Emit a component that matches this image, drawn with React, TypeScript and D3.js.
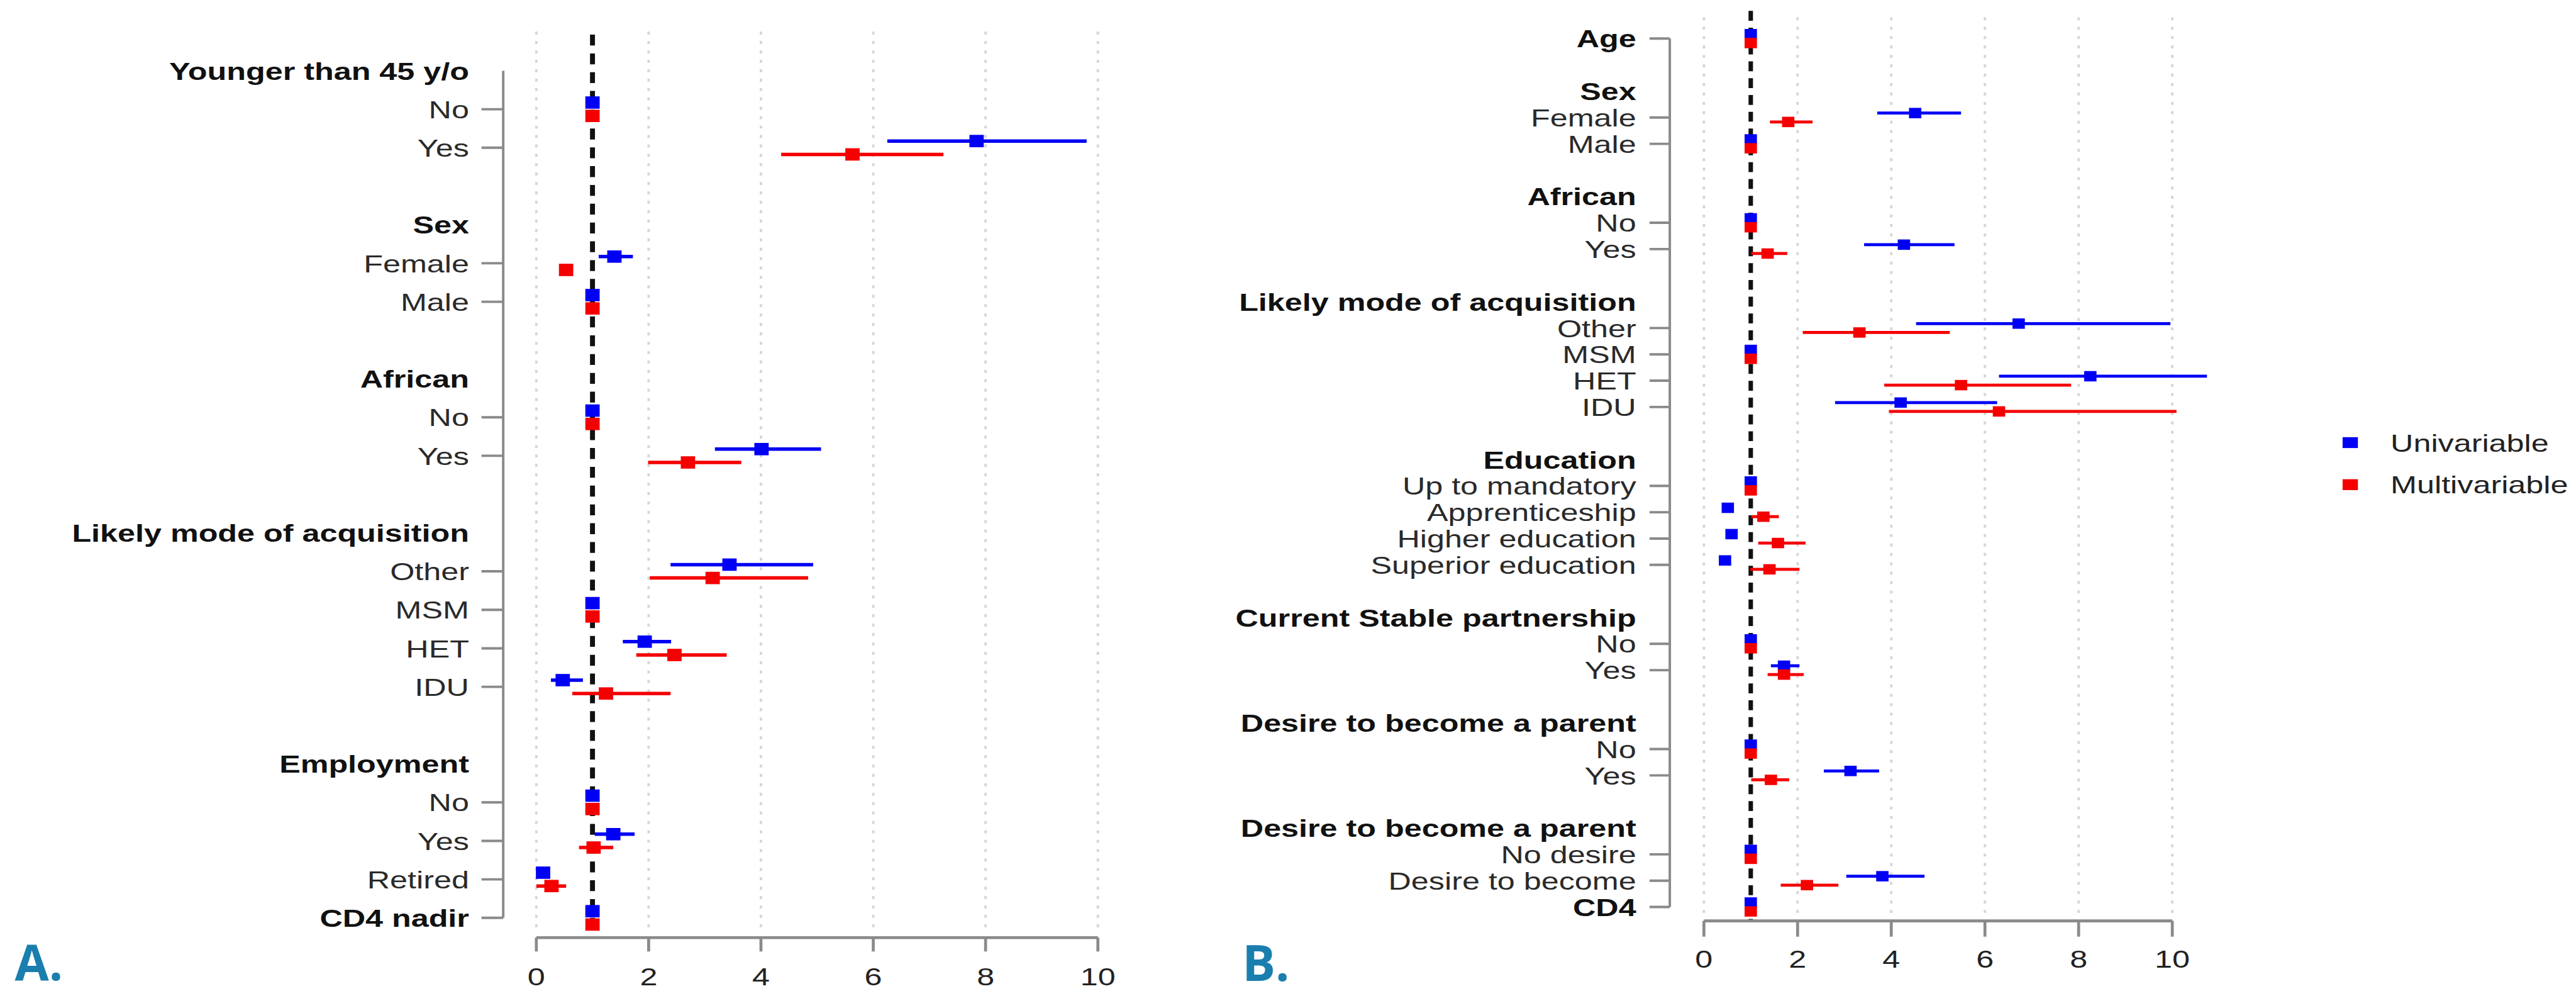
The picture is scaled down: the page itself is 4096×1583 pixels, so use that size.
import React from "react";
import * as d3 from "d3";

// rows of each panel: [label, kind]; kind = group | level | var | gap
const rowsA: [string, string][] = [
  ["Younger than 45 y/o", "group"],
  ["No", "level"], ["Yes", "level"], ["", "gap"],
  ["Sex", "group"], ["Female", "level"], ["Male", "level"], ["", "gap"],
  ["African", "group"], ["No", "level"], ["Yes", "level"], ["", "gap"],
  ["Likely mode of acquisition", "group"], ["Other", "level"], ["MSM", "level"], ["HET", "level"], ["IDU", "level"], ["", "gap"],
  ["Employment", "group"], ["No", "level"], ["Yes", "level"], ["Retired", "level"],
  ["CD4 nadir", "var"],
];

// one value per level/var row, in order
const uniA_est = [1, 7.84, 1.39, 1, 1, 4.01, 3.44, 1, 1.93, 0.47, 1, 1.37, 0.12, 1];
const uniA_lo = [1, 6.25, 1.11, 1, 1, 3.18, 2.39, 1, 1.54, 0.26, 1, 1.04, 0.12, 1];
const uniA_hi = [1, 9.8, 1.72, 1, 1, 5.07, 4.93, 1, 2.4, 0.83, 1, 1.75, 0.12, 1];
const multiA_est = [1, 5.63, 0.53, 1, 1, 2.7, 3.14, 1, 2.46, 1.24, 1, 1.02, 0.27, 1];
const multiA_lo = [1, 4.36, 0.5, 1, 1, 1.99, 2.02, 1, 1.78, 0.64, 1, 0.76, 0.0, 1];
const multiA_hi = [1, 7.25, 0.57, 1, 1, 3.65, 4.84, 1, 3.39, 2.39, 1, 1.37, 0.53, 1];

const rowsB: [string, string][] = [
  ["Age", "var"], ["", "gap"],
  ["Sex", "group"], ["Female", "level"], ["Male", "level"], ["", "gap"],
  ["African", "group"], ["No", "level"], ["Yes", "level"], ["", "gap"],
  ["Likely mode of acquisition", "group"], ["Other", "level"], ["MSM", "level"], ["HET", "level"], ["IDU", "level"], ["", "gap"],
  ["Education", "group"], ["Up to mandatory", "level"], ["Apprenticeship", "level"], ["Higher education", "level"], ["Superior education", "level"], ["", "gap"],
  ["Current Stable partnership", "group"], ["No", "level"], ["Yes", "level"], ["", "gap"],
  ["Desire to become a parent", "group"], ["No", "level"], ["Yes", "level"], ["", "gap"],
  ["Desire to become a parent", "group"], ["No desire", "level"], ["Desire to become", "level"],
  ["CD4", "var"],
];

const uniB_est = [1, 4.51, 1, 1, 4.27, 6.72, 1, 8.25, 4.2, 1, 0.51, 0.59, 0.45, 1, 1.71, 1, 3.13, 1, 3.81, 1];
const uniB_lo = [1, 3.7, 1, 1, 3.42, 4.53, 1, 6.3, 2.8, 1, 0.51, 0.59, 0.45, 1, 1.43, 1, 2.56, 1, 3.04, 1];
const uniB_hi = [1, 5.49, 1, 1, 5.35, 9.96, 1, 10.74, 6.26, 1, 0.51, 0.59, 0.45, 1, 2.04, 1, 3.74, 1, 4.71, 1];
const multiB_est = [1, 1.8, 1, 1, 1.36, 3.32, 1, 5.49, 6.3, 1, 1.27, 1.58, 1.4, 1, 1.71, 1, 1.43, 1, 2.2, 1];
const multiB_lo = [1, 1.41, 1, 1, 1.01, 2.11, 1, 3.85, 3.95, 1, 1.01, 1.16, 0.99, 1, 1.36, 1, 1.01, 1, 1.64, 1];
const multiB_hi = [1, 2.32, 1, 1, 1.78, 5.25, 1, 7.84, 10.09, 1, 1.6, 2.17, 2.04, 1, 2.13, 1, 1.82, 1, 2.87, 1];

const xTicks = [0, 2, 4, 6, 8, 10];
const seriesNames = ["Univariable", "Multivariable"];

const K = 0.786; // reference -> window
const SX = 1.28; // horizontal stretch of the source text
const BLUE = "#0000f5";
const RED = "#f50000";
const FONT = "'Liberation Sans', Arial, Helvetica, sans-serif";

function Label({ x, y, text, anchor = "end", bold = false, fill = "#262626", size = 50 }) {
  return (
    <text
      transform={`translate(${x},${y}) scale(${SX},1)`}
      textAnchor={anchor}
      dy="0.36em"
      fontSize={size}
      fontWeight={bold ? "bold" : "normal"}
      fill={fill}
    >
      {text}
    </text>
  );
}

function Forest({ rows, uni, multi, cfg }) {
  const x = d3.scaleLinear().domain([0, 10]).range(cfg.xRange);
  const y = d3.scaleLinear().domain([0, rows.length - 1]).range(cfg.yRange);

  let k = -1;
  const dataRows = rows
    .map((r, i) => (r[1] === "level" || r[1] === "var" ? { i, d: ++k } : null))
    .filter(Boolean);

  const series = [
    { s: uni, color: BLUE, off: -cfg.off },
    { s: multi, color: RED, off: cfg.off },
  ];

  return (
    <g>
      {/* dotted grid */}
      {xTicks.map((t) => (
        <line key={t} x1={x(t)} x2={x(t)} y1={cfg.gridTop} y2={cfg.gridBottom}
          stroke="#d6d6d6" strokeWidth={5} strokeDasharray="6,13" />
      ))}
      {/* reference line at 1 */}
      <line x1={x(1)} x2={x(1)} y1={cfg.dashTop} y2={cfg.axisY}
        stroke="#111" strokeWidth={cfg.dashW} strokeDasharray={cfg.dash} />

      {/* y axis */}
      <line x1={cfg.axisX} x2={cfg.axisX} y1={y(0)} y2={y(rows.length - 1)} stroke="#8a8a8a" strokeWidth={5} />
      {dataRows.map((r) => (
        <line key={r.i} x1={cfg.axisX - cfg.tickLen} x2={cfg.axisX} y1={y(r.i)} y2={y(r.i)} stroke="#8a8a8a" strokeWidth={5} />
      ))}
      {rows.map((r, i) =>
        r[0] ? (
          <Label key={i} x={cfg.labelRight} y={y(i)} text={r[0]}
            bold={r[1] !== "level"} fill={r[1] !== "level" ? "#111" : "#2a2a2a"} />
        ) : null
      )}

      {/* x axis */}
      <line x1={x(0)} x2={x(10)} y1={cfg.axisY} y2={cfg.axisY} stroke="#8a8a8a" strokeWidth={6} />
      {xTicks.map((t) => (
        <g key={t}>
          <line x1={x(t)} x2={x(t)} y1={cfg.axisY} y2={cfg.axisY + cfg.tickDown} stroke="#8a8a8a" strokeWidth={6} />
          <Label x={x(t)} y={cfg.tickLabelY} text={String(t)} anchor="middle" fill="#222" />
        </g>
      ))}

      {/* intervals and points */}
      {series.map((se, si) => (
        <g key={si} fill={se.color} stroke={se.color}>
          {dataRows.map((r) => {
            const yy = y(r.i) + se.off;
            const lo = se.s.lo[r.d], hi = se.s.hi[r.d], est = se.s.est[r.d];
            return (
              <g key={r.i}>
                {hi > lo && <line x1={x(lo)} x2={x(hi)} y1={yy} y2={yy} strokeWidth={cfg.ciW} />}
                <rect x={x(est) - cfg.mw / 2} y={yy - cfg.mh / 2} width={cfg.mw} height={cfg.mh} stroke="none" />
              </g>
            );
          })}
        </g>
      ))}
    </g>
  );
}

export default function App() {
  const cfgA = {
    xRange: [1085, 2221], yRange: [143, 1856],
    axisX: 1018, tickLen: 44, labelRight: 949,
    axisY: 1896, tickDown: 28, tickLabelY: 1975,
    gridTop: 64, gridBottom: 1880, dashTop: 70,
    dash: "22,16", dashW: 10,
    off: 13.5, mw: 29, mh: 25, ciW: 7,
  };
  const cfgB = {
    xRange: [3447, 4394.5], yRange: [78, 1834],
    axisX: 3378, tickLen: 41, labelRight: 3310,
    axisY: 1862, tickDown: 32, tickLabelY: 1939,
    gridTop: 35, gridBottom: 1846, dashTop: 22,
    dash: "20,14", dashW: 9,
    off: 9, mw: 25, mh: 21, ciW: 6,
  };

  return (
    <svg width={4096} height={1583} style={{ position: "absolute", left: 0, top: 0, display: "block" }}>
      <rect width={4096} height={1583} fill="#fff" />
      <g transform={`scale(${K})`} fontFamily={FONT}>
        <Forest rows={rowsA} cfg={cfgA}
          uni={{ est: uniA_est, lo: uniA_lo, hi: uniA_hi }}
          multi={{ est: multiA_est, lo: multiA_lo, hi: multiA_hi }} />
        <Forest rows={rowsB} cfg={cfgB}
          uni={{ est: uniB_est, lo: uniB_lo, hi: uniB_hi }}
          multi={{ est: multiB_est, lo: multiB_lo, hi: multiB_hi }} />

        {/* legend */}
        {seriesNames.map((name, i) => (
          <g key={name}>
            <rect x={4739} y={895 + i * 85 - 11} width={31} height={22} fill={i === 0 ? BLUE : RED} />
            <Label x={4836} y={895 + i * 85} text={name} anchor="start" fill="#222" />
          </g>
        ))}

        {/* panel letters */}
        <text x={30} y={1982} fontFamily="'Open Sans', sans-serif" fontWeight="bold" fontSize={100} fill="#1a7eae">A.</text>
        <text x={2513} y={1984} fontFamily="'Open Sans', sans-serif" fontWeight="bold" fontSize={100} fill="#1a7eae">B.</text>
      </g>
    </svg>
  );
}
